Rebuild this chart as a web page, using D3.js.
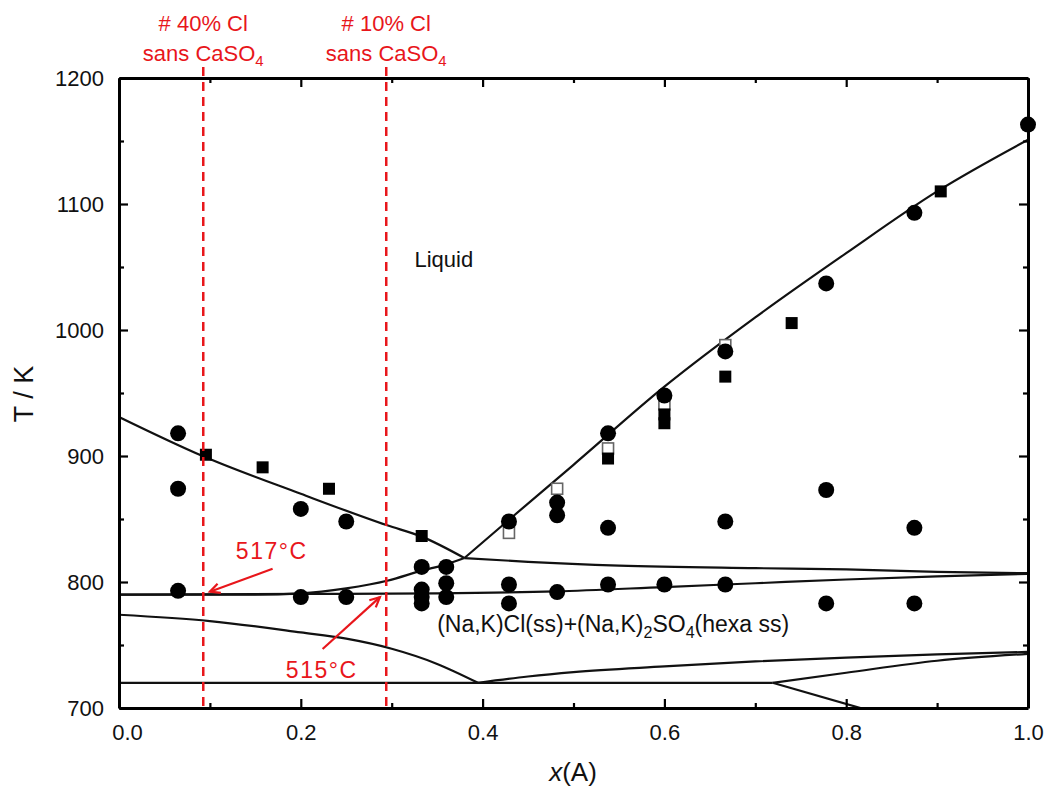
<!DOCTYPE html>
<html><head><meta charset="utf-8">
<script src="https://cdn.jsdelivr.net/npm/d3@7"></script>
<style>
body{margin:0;background:#fff}
svg{display:block}
text{font-family:"Liberation Sans",Arial,sans-serif}
</style>
</head><body>
<svg id="chart" width="1047" height="789"></svg>
<script>
// ---------- data ----------
const xTicks = [0, 0.2, 0.4, 0.6, 0.8, 1.0];
const xMinorTicks = [0.1, 0.3, 0.5, 0.7, 0.9];
const yTicks = [700, 800, 900, 1000, 1100, 1200];
const yMinorTicks = [750, 850, 950, 1050, 1150];

const liquidusCl = [[0,931],[0.092,900],[0.2,870],[0.295,845],[0.333,836],[0.38,819]];
const liquidusSO4 = [[0.38,819],[0.43,850],[0.5,893],[0.6,955],[0.7,1010],[0.8,1061],[0.9,1110],[1.0,1151]];
const solidusUpper = [[0,790],[0.15,790],[0.2,791],[0.25,795],[0.295,801],[0.333,809],[0.36,814],[0.38,819]];
const boundaryRight = [[0.38,819],[0.45,816],[0.55,813],[0.7,811],[0.8,810],[0.9,808],[1.0,807]];
const eutecticLine = [[0,790],[0.2,790.5],[0.35,791],[0.48,792.5],[0.6,796],[0.7,799],[0.8,802],[0.9,804.5],[1.0,806.5]];
const lowerCurve = [[0,774],[0.1,769],[0.2,760],[0.25,755],[0.3,747],[0.35,735],[0.395,720]];
const line720 = [[0,720],[0.719,720]];
const risingA = [[0.395,720],[0.45,725],[0.5,728.5],[0.6,733],[0.7,737],[0.8,740],[0.9,742.5],[1.0,744.5]];
const risingB = [[0.719,720],[0.8,728],[0.9,737.5],[1.0,743]];
const fallingC = [[0.719,720],[0.83,697]];

const circlePoints = [
  [0.065,918],[0.065,874],[0.065,793],
  [0.2,858],[0.25,848],[0.2,788],[0.25,788],
  [0.333,812],[0.333,794],[0.333,788],[0.333,783],
  [0.36,812],[0.36,799],[0.36,788],
  [0.429,848],[0.429,798],[0.429,783],
  [0.482,863],[0.482,853],[0.482,792],
  [0.538,918],[0.538,843],[0.538,798],
  [0.6,948],[0.6,798],
  [0.667,983],[0.667,848],[0.667,798],
  [0.778,1037],[0.778,873],[0.778,783],
  [0.875,1093],[0.875,843],[0.875,783],
  [1.0,1163]
];
const filledSquares = [[0.0956,901],[0.158,891],[0.231,874],[0.333,836.5],[0.538,898],[0.6,933],[0.6,926],[0.667,963],[0.74,1005.5],[0.904,1110]];
const openSquares = [[0.429,839],[0.482,874],[0.538,906],[0.6,941],[0.667,988]];

const cutLines = [0.0927, 0.294];
const cutLabels1 = ["# 40% Cl", "# 10% Cl"];
const arrows = [
  {label:"517\u00B0C", text:[0.168,825], from:[0.169,810.5], to:[0.1,792.3]},
  {label:"515\u00B0C", text:[0.223,730], from:[0.224,746.8], to:[0.287,788]}
];

// ---------- layout ----------
const svg = d3.select("#chart");
const x = d3.scaleLinear([0,1],[119,1028]);
const y = d3.scaleLinear([700,1200],[708,78]);
const red = "#e8161b";

svg.append("clipPath").attr("id","plotclip")
  .append("rect").attr("x",119).attr("y",78).attr("width",909).attr("height",630);

// curves
const line = d3.line().x(d=>x(d[0])).y(d=>y(d[1])).curve(d3.curveMonotoneX);
const lineLin = d3.line().x(d=>x(d[0])).y(d=>y(d[1]));
const curves = svg.append("g").attr("clip-path","url(#plotclip)")
  .attr("fill","none").attr("stroke","#111").attr("stroke-width",2.2);
[liquidusCl, liquidusSO4, solidusUpper, boundaryRight, eutecticLine, lowerCurve, risingA, risingB]
  .forEach(c => curves.append("path").attr("d", line(c)));
[line720, fallingC].forEach(c => curves.append("path").attr("d", lineLin(c)));

// markers
const marks = svg.append("g");
marks.selectAll("rect.open").data(openSquares).join("rect").attr("class","open")
  .attr("x",d=>x(d[0])-5.5).attr("y",d=>y(d[1])-5.5).attr("width",11).attr("height",11)
  .attr("fill","#fff").attr("stroke","#666").attr("stroke-width",1.6);
marks.selectAll("rect.filled").data(filledSquares).join("rect").attr("class","filled")
  .attr("x",d=>x(d[0])-6).attr("y",d=>y(d[1])-6).attr("width",12).attr("height",12)
  .attr("fill","#000");
marks.selectAll("circle").data(circlePoints).join("circle")
  .attr("cx",d=>x(d[0])).attr("cy",d=>y(d[1])).attr("r",8).attr("fill","#000");

// axes
function styleAxis(g){
  g.select(".domain").attr("stroke","#000").attr("stroke-width",3);
  g.selectAll(".tick line").attr("stroke","#000").attr("stroke-width",2.2);
  g.selectAll("text").attr("font-size",22).attr("fill","#111")
    .attr("font-family","'Liberation Sans',Arial,sans-serif");
}
const gB = svg.append("g").attr("transform","translate(0,708)")
  .call(d3.axisBottom(x).tickValues(xTicks).tickFormat(d3.format(".1f")).tickSizeInner(-9).tickSizeOuter(0).tickPadding(16));
styleAxis(gB);
gB.selectAll(".tick text").filter(d=>d===0).attr("dx",8);
const gBm = svg.append("g").attr("transform","translate(0,708)")
  .call(d3.axisBottom(x).tickValues(xMinorTicks).tickFormat("").tickSizeInner(-5).tickSizeOuter(0));
styleAxis(gBm); gBm.select(".domain").remove();

const gT = svg.append("g").attr("transform","translate(0,78)")
  .call(d3.axisTop(x).tickValues(xTicks).tickFormat("").tickSizeInner(-9).tickSizeOuter(0));
styleAxis(gT);
const gTm = svg.append("g").attr("transform","translate(0,78)")
  .call(d3.axisTop(x).tickValues(xMinorTicks).tickFormat("").tickSizeInner(-5).tickSizeOuter(0));
styleAxis(gTm); gTm.select(".domain").remove();

const gL = svg.append("g").attr("transform","translate(119,0)")
  .call(d3.axisLeft(y).tickValues(yTicks).tickFormat(d3.format("d")).tickSizeInner(-9).tickSizeOuter(0).tickPadding(15));
styleAxis(gL);
const gLm = svg.append("g").attr("transform","translate(119,0)")
  .call(d3.axisLeft(y).tickValues(yMinorTicks).tickFormat("").tickSizeInner(-5).tickSizeOuter(0));
styleAxis(gLm); gLm.select(".domain").remove();

const gR = svg.append("g").attr("transform","translate(1028,0)")
  .call(d3.axisRight(y).tickValues(yTicks).tickFormat("").tickSizeInner(-9).tickSizeOuter(0));
styleAxis(gR);
const gRm = svg.append("g").attr("transform","translate(1028,0)")
  .call(d3.axisRight(y).tickValues(yMinorTicks).tickFormat("").tickSizeInner(-5).tickSizeOuter(0));
styleAxis(gRm); gRm.select(".domain").remove();

// axis titles
const xt = svg.append("text").attr("x",573).attr("y",781).attr("text-anchor","middle")
  .attr("font-size",26).attr("fill","#111");
xt.append("tspan").attr("font-style","italic").text("x");
xt.append("tspan").text("(A)");
svg.append("text").attr("transform","translate(33,394) rotate(-90)").attr("text-anchor","middle")
  .attr("font-size",27).attr("fill","#111").text("T / K");

// region labels
svg.append("text").attr("x",x(0.325)).attr("y",y(1050)).attr("font-size",22).attr("fill","#111").text("Liquid");
const reg = svg.append("text").attr("x",x(0.35)).attr("y",y(760)).attr("font-size",23).attr("fill","#111");
reg.append("tspan").text("(Na,K)Cl(ss)+(Na,K)");
reg.append("tspan").attr("font-size",16).attr("dy",6).text("2");
reg.append("tspan").attr("dy",-6).text("SO");
reg.append("tspan").attr("font-size",16).attr("dy",6).text("4");
reg.append("tspan").attr("dy",-6).text("(hexa ss)");

// red cut lines
const cut = svg.append("g");
cutLines.forEach((v,i)=>{
  cut.append("line").attr("x1",x(v)).attr("x2",x(v)).attr("y1",67).attr("y2",708)
    .attr("stroke",red).attr("stroke-width",2.5).attr("stroke-dasharray","9,6");
  cut.append("text").attr("x",x(v)).attr("y",31).attr("text-anchor","middle")
    .attr("font-size",22).attr("fill",red).text(cutLabels1[i]);
  const t2 = cut.append("text").attr("x",x(v)).attr("y",61).attr("text-anchor","middle")
    .attr("font-size",22).attr("fill",red);
  t2.append("tspan").text("sans CaSO");
  t2.append("tspan").attr("font-size",15).attr("dy",5).text("4");
});

// arrows
arrows.forEach(a=>{
  const x1=x(a.from[0]), y1=y(a.from[1]), x2=x(a.to[0]), y2=y(a.to[1]);
  cut.append("line").attr("x1",x1).attr("y1",y1).attr("x2",x2).attr("y2",y2)
    .attr("stroke",red).attr("stroke-width",2.2);
  const ang = Math.atan2(y1-y2, x1-x2), L=11, w=0.45;
  const pts = [[x2+L*Math.cos(ang+w), y2+L*Math.sin(ang+w)],[x2,y2],[x2+L*Math.cos(ang-w), y2+L*Math.sin(ang-w)]];
  cut.append("path").attr("d", d3.line()(pts)).attr("fill","none").attr("stroke",red).attr("stroke-width",2.2);
  cut.append("text").attr("x",x(a.text[0])).attr("y",y(a.text[1])).attr("dy","0.36em")
    .attr("text-anchor","middle").attr("font-size",23).attr("letter-spacing",1.5).attr("fill",red).text(a.label);
});
</script>
</body></html>
